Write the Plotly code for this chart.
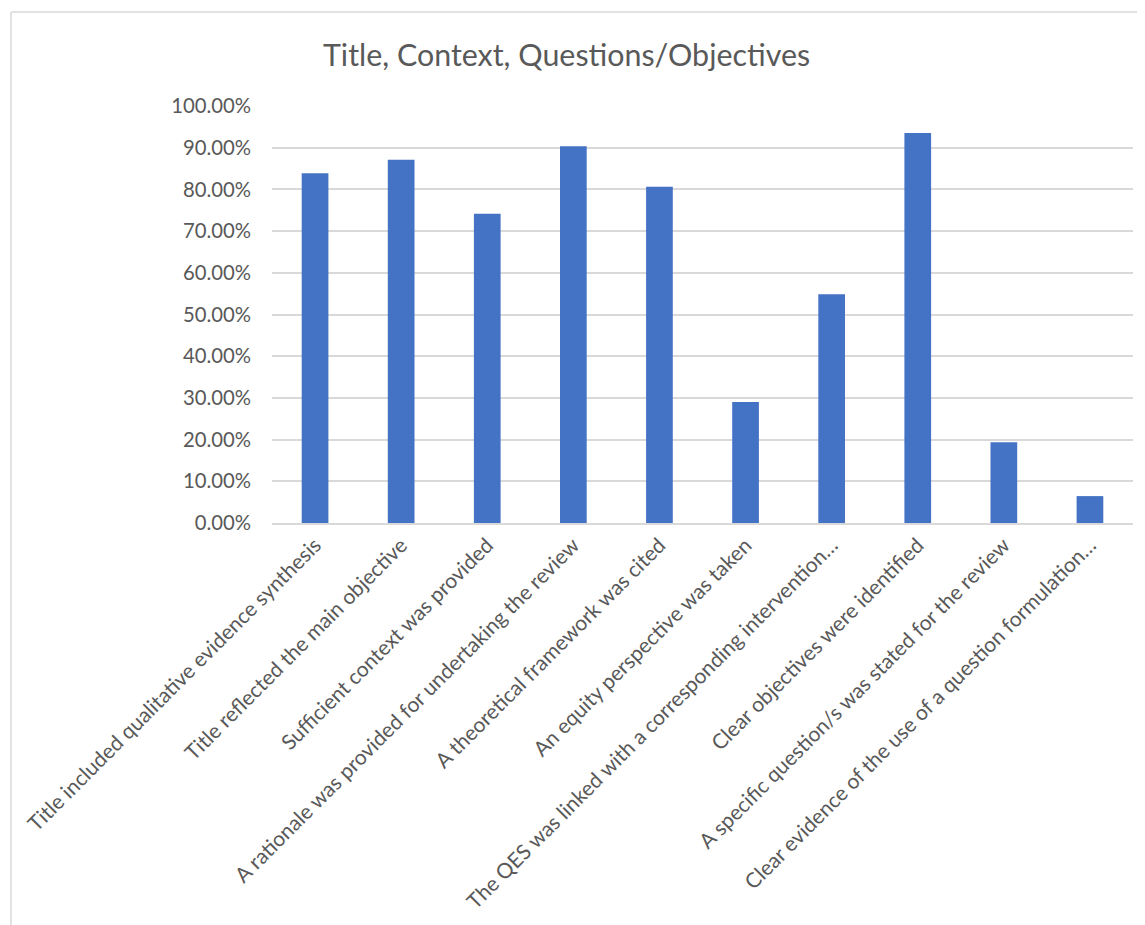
import plotly.graph_objects as go

categories = [
    "Title included qualitative evidence synthesis",
    "Title reflected the main objective",
    "Sufficient context was provided",
    "A rationale was provided for undertaking the review",
    "A theoretical framework was cited",
    "An equity perspective was taken",
    "The QES was linked with a corresponding intervention…",
    "Clear objectives were identified",
    "A specific question/s was stated for the review",
    "Clear evidence of the use of a question formulation…",
]
values = [0.8387, 0.8710, 0.7419, 0.9032, 0.8065, 0.2903, 0.5484, 0.9355, 0.1935, 0.0645]
tick_vals = [0, 0.1, 0.2, 0.3, 0.4, 0.5, 0.6, 0.7, 0.8, 0.9, 1.0]
tick_text = ["0.00%", "10.00%", "20.00%", "30.00%", "40.00%", "50.00%",
             "60.00%", "70.00%", "80.00%", "90.00%", "100.00%"]

FONT = "Lato"
GREY = "#595959"

fig = go.Figure(go.Bar(x=categories, y=values, marker_color="#4472C4",
                       marker_line_width=0))

OFF = 8  # page body margin
W, H = 1145 - OFF, 925 - OFF
L, R, T, B = 272 - OFF, 12, 106 - OFF, 402
pw = W - L - R
ph = H - T - B

def px_x(p):
    return (p - OFF - L) / pw

def px_y(p):
    return (H - B - (p - OFF)) / ph

fig.update_layout(
    width=W, height=H,
    margin=dict(l=L, r=R, t=T, b=B),
    paper_bgcolor="white", plot_bgcolor="white",
    bargap=0.69,
    showlegend=False,
    font=dict(family=FONT, color=GREY),
    xaxis=dict(tickangle=-45, tickfont=dict(size=21, color=GREY, family=FONT),
               showgrid=False, showline=True, linecolor="#d9d9d9", linewidth=1.5,
               ticks="", automargin=False),
    yaxis=dict(range=[0, 1], tickvals=tick_vals, ticktext=tick_text,
               tickfont=dict(size=20.3, color=GREY, family=FONT),
               showgrid=True, gridcolor="#d9d9d9", gridwidth=1.5,
               zeroline=False, showline=False, ticks="",
               ticklabelstandoff=20, automargin=False),
    annotations=[dict(text="Title, Context, Questions/Objectives",
                      xref="paper", yref="paper", x=px_x(566), y=px_y(54),
                      xanchor="center", yanchor="middle", showarrow=False,
                      font=dict(size=30.4, color=GREY, family=FONT))],
    shapes=[
        dict(type="line", xref="paper", yref="paper",
             x0=px_x(11), x1=px_x(1145), y0=px_y(12), y1=px_y(12),
             line=dict(color="#d9d9d9", width=1.5)),
        dict(type="line", xref="paper", yref="paper",
             x0=px_x(11), x1=px_x(11), y0=px_y(12), y1=px_y(925),
             line=dict(color="#d9d9d9", width=1.5)),
    ],
)

fig.write_html("out.html")
